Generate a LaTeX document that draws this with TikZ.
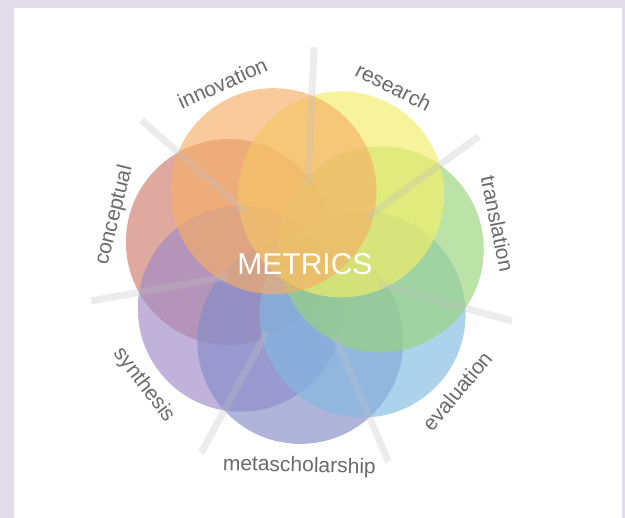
\documentclass[tikz,border=0pt]{standalone}
\usepackage{fontspec}
\setmainfont{Liberation Sans}
\usetikzlibrary{positioning}
\definecolor{framebg}{HTML}{E3DCEA}
\definecolor{spoke}{HTML}{C2C2C2}
\definecolor{labelgray}{HTML}{6B6B6B}
\definecolor{cinnov}{HTML}{F6AF67}
\definecolor{cresearch}{HTML}{F4EE67}
\definecolor{ctransl}{HTML}{99D479}
\definecolor{ceval}{HTML}{82BAE2}
\definecolor{cmeta}{HTML}{858CC9}
\definecolor{csynth}{HTML}{A08AC8}
\definecolor{cconcept}{HTML}{CF7B6D}

\begin{document}
\begin{tikzpicture}[x=1pt,y=1pt,
  petal/.style={circle,inner sep=0pt,minimum size=206pt,fill opacity=0.65},
  spokeline/.style={draw=spoke,line width=7pt,draw opacity=0.3},
  toplabel/.style={anchor=base,inner sep=0pt,text=labelgray,font=\fontsize{21}{21}\selectfont},
  botlabel/.style={toplabel}]
% frame
\fill[framebg] (-304,-255) rectangle (321,263);
\fill[white] (-290,-255) rectangle (318,255);
%
\node (conceptual) [petal,fill=cconcept] at (164.4:78pt) {};
\node (synthesis) [petal,fill=csynth] at (-144.1:78pt) {};
\node (metascholarship) [petal,fill=cmeta] at (-92.7:78pt) {};
\node (evaluation) [petal,fill=ceval] at (-41.3:78pt) {};
\node (translation) [petal,fill=ctransl] at (10.1:78pt) {};
\node (research) [petal,fill=cresearch] at (61.6:78pt) {};
\node (innovation) [petal,fill=cinnov] at (113:78pt) {};
%
\foreach \a in {87.3,35.9,-15.6,-67,-118.4,-169.9,138.7}
  \draw[spokeline] (\a:78pt) -- (\a:216pt);
%
\node (metrics) [text=white,font=\fontsize{30}{30}\selectfont] at (1,-1) {METRICS};
%
\node (innovationlbl) [toplabel,rotate=24.4] at (114.4:190pt) {innovation};
\node (researchlbl) [toplabel,rotate=-27] at (63:190pt) {research};
\node (translationlbl) [toplabel,rotate=-78.5] at (11.5:190pt) {translation};
\node (evaluationlbl) [botlabel,rotate=50.1] at (-39.9:207pt) {evaluation};
\node (metascholarshiplbl) [botlabel,rotate=-1.3] at (-91.3:209pt) {metascholarship};
\node (synthesislbl) [botlabel,rotate=-52.7] at (-142.7:207pt) {synthesis};
\node (conceptuallbl) [toplabel,rotate=75.9] at (165.9:190pt) {conceptual};
\end{tikzpicture}
\end{document}
